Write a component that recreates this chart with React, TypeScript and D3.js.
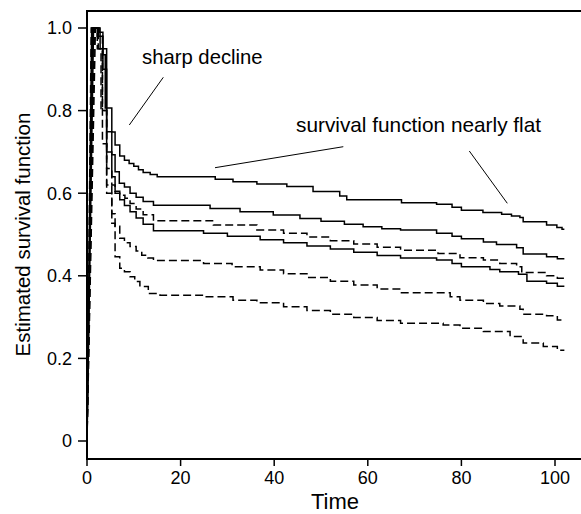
import React from "react";
import * as d3 from "d3";

const W = 581;
const H = 514;

const xTicks = [0, 20, 40, 60, 80, 100];
const yTicks = [0, 0.2, 0.4, 0.6, 0.8, 1.0];
const yTickLabels = ["0", "0.2", "0.4", "0.6", "0.8", "1.0"];

const solidTop: [number, number][] = [
  [0, 0], [1.0, 1.0], [2.6, 0.99], [3.4, 0.935], [3.9, 0.806], [5.3, 0.748], [6, 0.717], [7, 0.69],
  [8, 0.68], [9, 0.672], [10, 0.665], [11, 0.657], [12, 0.65], [13.5, 0.645], [15, 0.64],
  [27.4, 0.634], [31.2, 0.628], [36.3, 0.622], [42.7, 0.616], [48.3, 0.604], [54, 0.593],
  [55.5, 0.584], [67.2, 0.577], [74.7, 0.573], [78, 0.566], [80, 0.559], [84.6, 0.553],
  [88.6, 0.549], [90.7, 0.545], [92.5, 0.541], [93.2, 0.531], [98.2, 0.523], [100.4, 0.517],
  [101.5, 0.513], [102, 0.513],
];
const solidMid: [number, number][] = [
  [0, 0], [1.2, 1.0], [2.5, 0.98], [3.4, 0.9], [4.2, 0.749], [5.3, 0.693], [6, 0.652], [6.9, 0.624],
  [8, 0.615], [9.2, 0.6], [10.5, 0.59], [12, 0.58], [14.2, 0.571], [26.3, 0.563], [32.7, 0.555],
  [39.8, 0.547], [45.5, 0.539], [50, 0.532], [55, 0.525], [59, 0.519], [63, 0.514], [67, 0.511],
  [74.7, 0.503], [78, 0.496], [80, 0.49], [84.7, 0.482], [87.5, 0.476], [91.8, 0.468],
  [93.2, 0.453], [98.2, 0.446], [100.5, 0.441], [102, 0.441],
];
const solidLow: [number, number][] = [
  [0, 0], [1.4, 1.0], [2.8, 0.95], [4.2, 0.7], [5.3, 0.64], [6, 0.6], [7, 0.584], [8, 0.57],
  [9.2, 0.555], [10.5, 0.54], [12, 0.525], [14.2, 0.509], [24.9, 0.503], [30, 0.496], [37, 0.487],
  [42, 0.48], [47, 0.472], [52, 0.465], [57, 0.457], [62, 0.449], [67, 0.443], [74.7, 0.438],
  [78, 0.43], [80, 0.422], [86.1, 0.415], [88.2, 0.41], [92.2, 0.404], [94, 0.387], [98.2, 0.382],
  [100.5, 0.375], [102, 0.375],
];
const dashedTop: [number, number][] = [
  [0, 0], [0.9, 1.0], [2.2, 0.98], [3.3, 0.72], [4.2, 0.66], [5.3, 0.62], [6, 0.605], [7, 0.595],
  [8.1, 0.588], [9.2, 0.575], [10.5, 0.562], [12, 0.548], [14.2, 0.533], [27, 0.523], [36.3, 0.511],
  [42, 0.503], [47, 0.494], [52, 0.485], [57, 0.477], [62, 0.469], [67, 0.462], [75, 0.454],
  [79.7, 0.444], [84.7, 0.438], [88.2, 0.43], [91.8, 0.422], [92.9, 0.408], [98.2, 0.4],
  [100.5, 0.394], [102, 0.394],
];
const dashedMid: [number, number][] = [
  [0, 0], [1.6, 1.0], [2.4, 0.95], [3.3, 0.8], [4.2, 0.62], [5.3, 0.55], [6, 0.52], [7, 0.491],
  [8, 0.48], [9.2, 0.471], [10.5, 0.46], [11.7, 0.45], [13, 0.443], [14.2, 0.437], [24.9, 0.43],
  [31, 0.422], [37, 0.414], [42, 0.405], [47, 0.396], [52, 0.387], [57, 0.378], [62, 0.368],
  [67, 0.359], [77.6, 0.349], [79.7, 0.341], [84.7, 0.333], [88.2, 0.327], [92.5, 0.319],
  [93.2, 0.307], [98.2, 0.303], [100.5, 0.293], [102, 0.293],
];
const dashedLow: [number, number][] = [
  [0, 0], [1.8, 1.0], [2.2, 0.95], [3, 0.8], [4.2, 0.6], [5.3, 0.527], [6, 0.446], [7, 0.418],
  [8, 0.41], [9.2, 0.398], [10.2, 0.386], [11.3, 0.374], [13.1, 0.357], [15.6, 0.353],
  [24.9, 0.349], [31.2, 0.341], [36.3, 0.335], [42, 0.325], [47, 0.316], [52, 0.307], [57, 0.299],
  [62, 0.292], [67, 0.285], [76.1, 0.281], [79.7, 0.273], [84.7, 0.265], [90.4, 0.253],
  [93.2, 0.237], [97.5, 0.229], [100.5, 0.22], [102, 0.22],
];

const seriesList = [
  { data: solidTop, dashed: false },
  { data: solidMid, dashed: false },
  { data: solidLow, dashed: false },
  { data: dashedTop, dashed: true },
  { data: dashedMid, dashed: true },
  { data: dashedLow, dashed: true },
];

const FONT = "'Liberation Sans', Arial, Helvetica, sans-serif";

export default function App() {
  const x = d3.scaleLinear().domain([0, 100]).range([87, 555]);
  const y = d3.scaleLinear().domain([0, 1]).range([441, 28]);

  const boxLeft = 87;
  const boxTop = 11;
  const boxBottom = 459;
  const boxRight = 600;

  const lin = d3.line<[number, number]>().x((d) => x(d[0])).y((d) => y(d[1]));
  const step = d3
    .line<[number, number]>()
    .x((d) => x(d[0]))
    .y((d) => y(d[1]))
    .curve(d3.curveStepAfter);

  const makePath = (data: [number, number][]) => {
    const rise = lin(data.slice(0, 2)) || "";
    const rest = (step(data.slice(1)) || "").replace(/^M/, "L");
    return rise + rest;
  };

  return (
    <svg
      width={W}
      height={H}
      style={{ position: "absolute", left: 0, top: 0, background: "#fff" }}
      fontFamily={FONT}
    >
      <rect x={0} y={0} width={W} height={H} fill="#fff" />
      {seriesList.map((s, i) => (
        <path
          key={i}
          d={makePath(s.data)}
          fill="none"
          stroke="#000"
          strokeWidth={1.5}
          strokeDasharray={s.dashed ? "8,4" : undefined}
        />
      ))}
      <rect
        x={boxLeft}
        y={boxTop}
        width={boxRight - boxLeft}
        height={boxBottom - boxTop}
        fill="none"
        stroke="#000"
        strokeWidth={2}
      />
      {yTicks.map((t, i) => (
        <g key={"y" + i}>
          <line x1={78} x2={boxLeft} y1={y(t)} y2={y(t)} stroke="#000" strokeWidth={1.5} />
          <text x={72} y={y(t)} dy="0.35em" textAnchor="end" fontSize={18}>
            {yTickLabels[i]}
          </text>
        </g>
      ))}
      {xTicks.map((t, i) => (
        <g key={"x" + i}>
          <line x1={x(t)} x2={x(t)} y1={boxBottom} y2={boxBottom + 7} stroke="#000" strokeWidth={1.5} />
          <text x={x(t)} y={484} textAnchor="middle" fontSize={18}>
            {String(t)}
          </text>
        </g>
      ))}
      <text x={335} y={509} textAnchor="middle" fontSize={22}>
        Time
      </text>
      <text
        transform={`translate(30,${(y(0) + y(1)) / 2}) rotate(-90)`}
        textAnchor="middle"
        fontSize={20.5}
      >
        Estimated survival function
      </text>
      <text x={142} y={64} fontSize={20.3}>
        sharp decline
      </text>
      <text x={296} y={132} fontSize={20.8}>
        survival function nearly flat
      </text>
      <line x1={163.3} y1={77.3} x2={129.3} y2={125} stroke="#000" strokeWidth={1} />
      <line x1={215} y1={167.7} x2={343.3} y2={146.7} stroke="#000" strokeWidth={1} />
      <line x1={469.3} y1={151} x2={507.3} y2={203.3} stroke="#000" strokeWidth={1} />
    </svg>
  );
}
